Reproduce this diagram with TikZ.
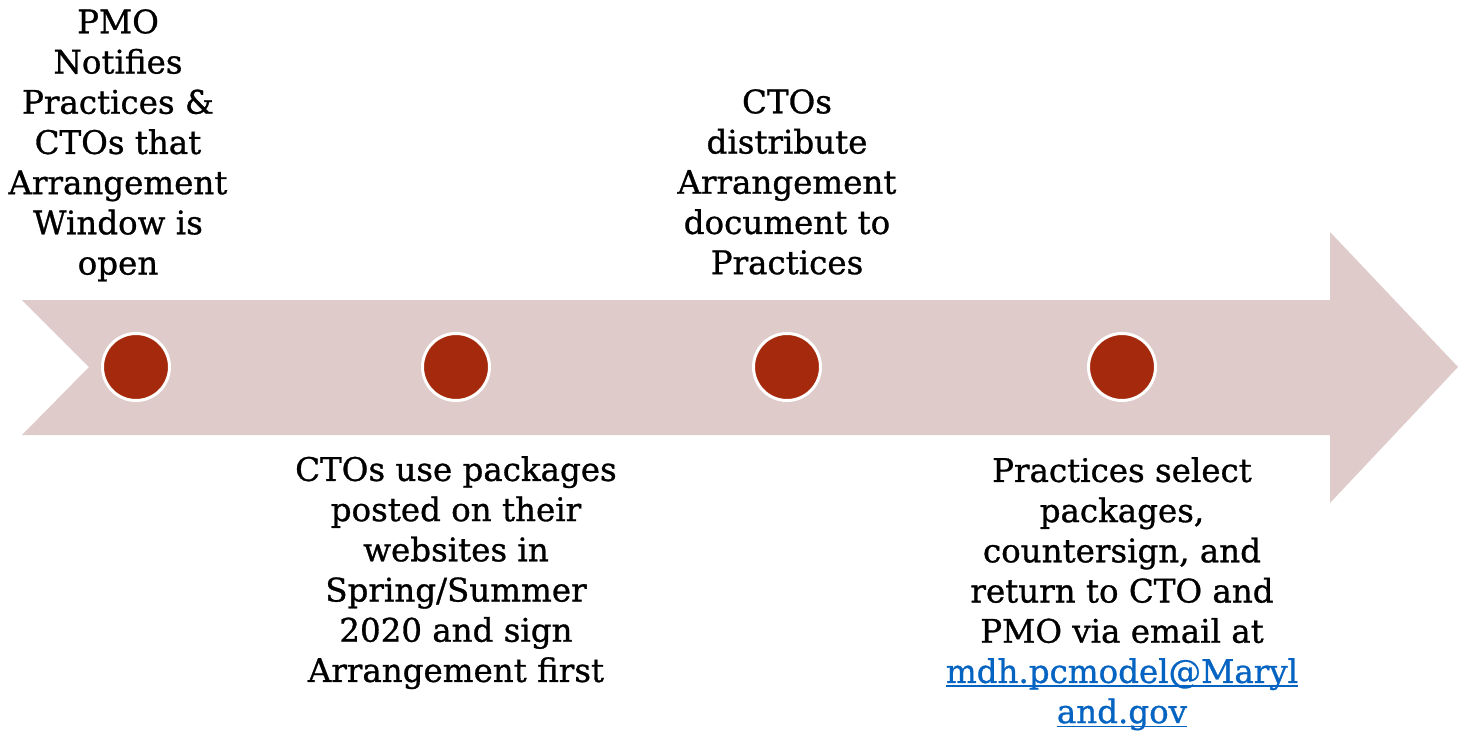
\documentclass[tikz,border=0pt]{standalone}
\usepackage{fontspec}
\setmainfont[FakeBold=0.9]{DejaVu Serif}
\definecolor{arrowfill}{HTML}{E0CBCB}
\definecolor{dotfill}{HTML}{A52A0D}
\definecolor{linkblue}{HTML}{0563C1}
\newcommand\mylnk[1]{\setbox0\hbox{#1}\textcolor{linkblue}{\rlap{\rule[-4pt]{\wd0}{1.6pt}}\box0}}
\begin{document}
\begin{tikzpicture}[x=1pt,y=-1pt,
  dot/.style={circle,fill=dotfill,draw=white,line width=3pt,minimum size=67pt,inner sep=0pt},
  label/.style={align=center,inner sep=0pt,anchor=north,font=\fontsize{32.5}{40.2}\selectfont}]
\useasboundingbox (0,0) rectangle (1458,733);
% arrow
\fill[arrowfill] (22,300) -- (1330,300) -- (1330,232) -- (1458,367) -- (1330,503)
  -- (1330,435) -- (22,435) -- (89,367) -- cycle;
% dots
\node[dot] (d1) at (136,367) {};
\node[dot] (d2) at (456,367) {};
\node[dot] (d3) at (787,367) {};
\node[dot] (d4) at (1122,367) {};
% labels
\node[label] (t1) at (118,9) {PMO\\Notifies\\Practices \&\\CTOs that\\Arrangement\\Window is\\open};
\node[label] (t2) at (456,456) {CTOs use packages\\posted on their\\websites in\\Spring/Summer\\2020 and sign\\Arrangement first};
\node[label] (t3) at (787,89) {CTOs\\distribute\\Arrangement\\document to\\Practices};
\node[label] (t4) at (1122,457) {Practices select\\packages,\\countersign, and\\return to CTO and\\PMO via email at\\\mylnk{mdh.pcmodel@Maryl}\\\mylnk{and.gov}};
\end{tikzpicture}
\end{document}
